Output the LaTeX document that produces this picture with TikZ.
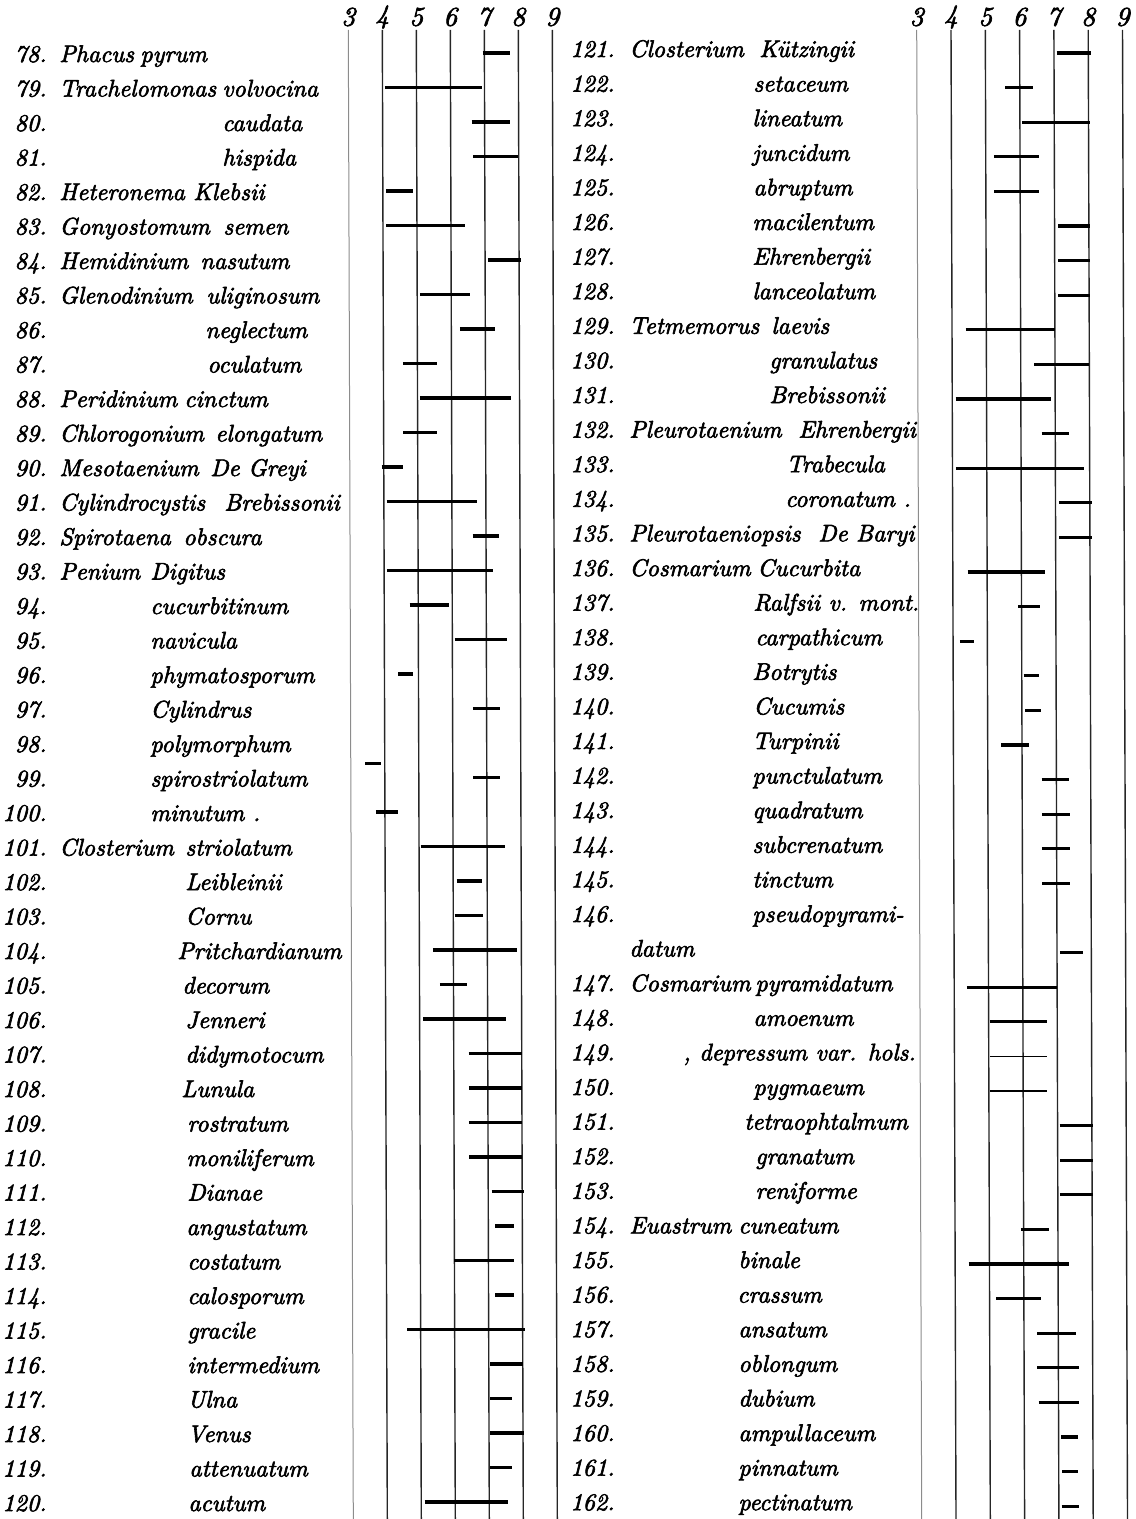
\documentclass[tikz,border=0pt]{standalone}
\usepackage{fontspec}
\newfontfamily\listfont{lmroman10-italic.otf}[FakeBold=2.5]

\tikzset{
    entry/.style={font=\listfont\fontsize{12}{14}\selectfont, inner sep=0pt},
    scaleno/.style={font=\listfont\fontsize{13.5}{15}\selectfont, inner sep=0pt},
    ruler/.style={line width=0.7pt, black!85},
    faintruler/.style={line width=0.5pt, black!45},
    span/.style={line width=1.6pt, black},
    thinspan/.style={line width=0.9pt, black},
}

\begin{document}
\begin{tikzpicture}[x=0.5pt, y=-0.5pt]
    \useasboundingbox (0,0) rectangle (1135,1519);

    % Left list, 78 - 120
    \foreach \i/\n/\x/\s in {0/78/140/pyrum, 1/79/222/volvocina, 2/80/222/caudata,
        3/81/222/hispida, 4/82/193/Klebsii, 5/83/223/semen, 6/84/200/nasutum,
        7/85/206/uliginosum, 8/86/205/neglectum, 9/87/207/oculatum, 10/88/184/cinctum,
        11/89/215/elongatum, 12/90/210/De Greyi, 13/91/224/Brebissonii, 14/92/183/obscura,
        15/93/150/Digitus, 16/94/150/cucurbitinum, 17/95/150/navicula,
        18/96/150/phymatosporum, 19/97/150/Cylindrus, 20/98/150/polymorphum,
        21/99/150/spirostriolatum, 22/100/150/minutum ., 23/101/185/striolatum,
        24/102/185/Leibleinii, 25/103/185/Cornu, 26/104/177/Pritchardianum,
        27/105/182/decorum, 28/106/185/Jenneri, 29/107/185/didymotocum,
        30/108/181/Lunula, 31/109/187/rostratum, 32/110/186/moniliferum,
        33/111/187/Dianae, 34/112/186/angustatum, 35/113/187/costatum,
        36/114/187/calosporum, 37/115/187/gracile, 38/116/187/intermedium,
        39/117/187/Ulna, 40/118/187/Venus, 41/119/189/attenuatum, 42/120/188/acutum} {
        \node[entry, anchor=base east] (num\n) at (47, 62+\i*34.5) {\n.};
        \node[entry, anchor=base west] (sp\n) at (\x, 62+\i*34.5) {\s};
    }
    \foreach \i/\g in {0/Phacus, 1/Trachelomonas, 4/Heteronema, 5/Gonyostomum,
        6/Hemidinium, 7/Glenodinium, 10/Peridinium, 11/Chlorogonium, 12/Mesotaenium,
        13/Cylindrocystis, 14/Spirotaena, 15/Penium, 23/Closterium} {
        \node[entry, anchor=base west] (gen\i) at (59, 62+\i*34.5) {\g};
    }

    % Right list, 121 - 162
    \foreach \i/\n/\x/\s in {0/121/759/Kützingii, 1/122/753/setaceum, 2/123/752/lineatum,
        3/124/752/juncidum, 4/125/753/abruptum, 5/126/752/macilentum,
        6/127/752/Ehrenbergii, 7/128/752/lanceolatum, 8/129/771/laevis,
        9/130/769/granulatus, 10/131/769/Brebissonii, 11/132/798/Ehrenbergii,
        12/133/786/Trabecula, 13/134/785/coronatum ., 14/135/818/De Baryi,
        15/136/757/Cucurbita, 16/137/753/Ralfsii v. mont., 17/138/755/carpathicum,
        18/139/752/Botrytis, 19/140/753/Cucumis, 20/141/752/Turpinii,
        21/142/752/punctulatum, 22/143/752/quadratum, 23/144/752/subcrenatum,
        24/145/752/tinctum, 25/146/752/pseudopyrami-, 27/147/755/pyramidatum,
        28/148/753/amoenum, 29/149/683/{, depressum var. hols.}, 30/150/753/pygmaeum,
        31/151/744/tetraophtalmum, 32/152/755/granatum, 33/153/755/reniforme,
        34/154/738/cuneatum, 35/155/738/binale, 36/156/737/crassum, 37/157/738/ansatum,
        38/158/738/oblongum, 39/159/738/dubium, 40/160/738/ampullaceum,
        41/161/738/pinnatum, 42/162/738/pectinatum} {
        \node[entry, anchor=base east] (num\n) at (615, 57+\i*34.6) {\n.};
        \node[entry, anchor=base west] (sp\n) at (\x, 57+\i*34.6) {\s};
    }
    \foreach \i/\g in {0/Closterium, 8/Tetmemorus, 11/Pleurotaenium, 14/Pleurotaeniopsis,
        15/Cosmarium, 26/datum, 27/Cosmarium, 34/Euastrum} {
        \node[entry, anchor=base west] (genr\i) at (629, 57+\i*34.6) {\g};
    }

    % Left scale 3 - 9 with ranges
    \begin{scope}[shift={(246.2,0)}, x={(17pt,0pt)}, y={(0.00168pt,-0.5pt)}]
        \draw[faintruler] (3,30) -- (3,1519);
        \foreach \v in {4,...,9} {
            \draw[ruler] (\v,30) -- (\v,1519);
        }
        \foreach \v in {3,...,9} {
            \node[scaleno] (lhead\v) at (\v,17) {\v};
        }
        \foreach \i/\a/\b in {0/6.95/7.75, 1/4.07/6.92, 2/6.62/7.74, 3/6.66/7.97,
            4/4.10/4.90, 5/4.10/6.42, 6/7.08/8.05, 7/5.08/6.55, 8/6.25/7.28,
            9/4.57/5.57, 10/5.07/7.75, 11/4.57/5.57, 12/3.94/4.58, 13/4.08/6.73,
            14/6.61/7.38, 15/4.08/7.2, 16/4.75/5.9, 17/6.07/7.6, 18/4.4/4.85,
            19/6.6/7.4, 20.6/3.42/3.9, 21/6.6/7.4, 22/3.73/4.37, 23/5.05/7.52,
            24/6.1/6.86, 25/6.04/6.86, 26/5.4/7.87, 27/5.6/6.4, 28/5.1/7.54,
            29/6.44/8.0, 30/6.44/8.0, 31/6.44/8.0, 32/6.44/8.0, 33/7.1/8.05,
            34/7.2/7.75, 35/6.0/7.75, 36/7.2/7.75, 37/4.6/8.07, 38/7.04/8.0,
            39/7.04/7.68, 40/7.04/8.04, 41/7.04/7.68, 42/5.1/7.55} {
            \draw[span] (\a,53+\i*34.5) -- (\b,53+\i*34.5);
        }
    \end{scope}

    % Right scale 3 - 9 with ranges
    \begin{scope}[shift={(813.7,0)}, x={(17.15pt,0pt)}, y={(0.00168pt,-0.5pt)}]
        \draw[faintruler] (3,30) -- (3,1519);
        \foreach \v in {4,...,9} {
            \draw[ruler] (\v,30) -- (\v,1519);
        }
        \foreach \v in {3,...,9} {
            \node[scaleno] (rhead\v) at (\v,17) {\v};
        }
        \foreach \i/\a/\b in {0/7.08/8.07, 1/5.57/6.39, 2/6.06/8.05, 3/5.24/6.55,
            4/5.24/6.55, 5/7.1/8.04, 6/7.1/8.04, 7/7.1/8.04, 8/4.4/7.0, 9/6.4/8.0,
            10/4.1/6.87, 11/6.6/7.4, 12/4.1/7.83, 13/7.1/8.05, 14/7.1/8.05,
            15/4.43/6.7, 16/5.9/6.55, 17/4.2/4.6, 18/6.05/6.5, 19/6.1/6.57,
            20/5.4/6.2, 21/6.57/7.38, 22/6.57/7.38, 23/6.57/7.38, 24/6.57/7.38,
            26/7.08/7.75, 27/4.37/7.0, 28/5.03/6.7, 31/7.06/8.02, 32/7.06/8.02,
            33/7.06/8.02, 34/5.92/6.73, 35/4.39/7.33, 36/5.2/6.5, 37/6.39/7.53,
            38/6.39/7.6, 39/6.42/7.6, 40/7.08/7.56, 41/7.1/7.56, 42/7.08/7.6} {
            \draw[span] (\a,53+\i*34.6) -- (\b,53+\i*34.6);
        }
        % 149 and 150 are printed lighter
        \foreach \i in {29,30} {
            \draw[thinspan] (5.03,53+\i*34.6) -- (6.7,53+\i*34.6);
        }
    \end{scope}
\end{tikzpicture}
\end{document}
